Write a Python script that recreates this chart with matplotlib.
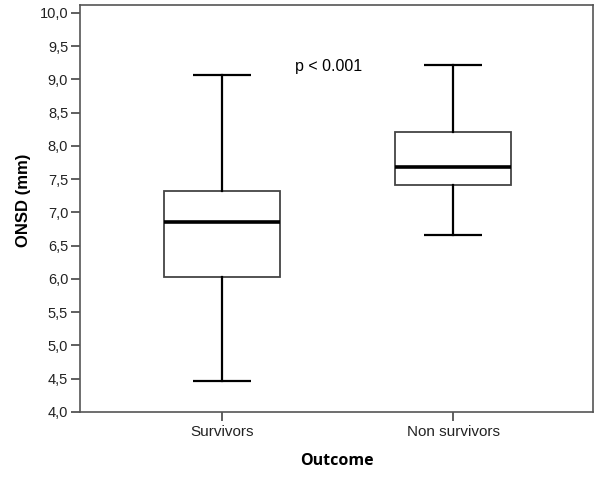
import matplotlib
matplotlib.use("Agg")
import matplotlib.pyplot as plt

plt.rcParams['font.family'] = ['Liberation Sans', 'DejaVu Sans']

# box plot summary
groups = ["Survivors", "Non survivors"]
whislo = [4.46, 6.66]
q1 = [6.03, 7.41]
med = [6.86, 7.68]
q3 = [7.33, 8.21]
whishi = [9.06, 9.22]
yticks = [4.0, 4.5, 5.0, 5.5, 6.0, 6.5, 7.0, 7.5, 8.0, 8.5, 9.0, 9.5, 10.0]

stats = []
for i in range(len(groups)):
    stats.append(dict(label=groups[i], whislo=whislo[i], q1=q1[i], med=med[i],
                      q3=q3[i], whishi=whishi[i], fliers=[]))

fig = plt.figure(figsize=(6, 4.8), dpi=100)
ax = fig.add_axes([0.1333, 0.1417, 0.855, 0.8479])

ax.bxp(stats, positions=[1, 2], widths=0.5, showfliers=False, patch_artist=True,
       boxprops=dict(facecolor='white', edgecolor='#444444', linewidth=1.3),
       medianprops=dict(color='black', linewidth=2.6),
       whiskerprops=dict(color='black', linewidth=1.6),
       capprops=dict(color='black', linewidth=1.6, solid_capstyle='butt'),
       capwidths=0.25)

ax.set_xlim(0.385, 2.606)
ax.set_ylim(4.0, 10.12)
ax.set_yticks(yticks)
ax.set_yticklabels([("%.1f" % v).replace(".", ",") for v in yticks], fontsize=10.5, color='#222222')
ax.set_xticks([1, 2])
ax.set_xticklabels(groups, fontsize=11, color='#222222')
ax.tick_params(axis='both', direction='out', length=6.5, width=1.2, color='#444444')
ax.tick_params(axis='x', pad=3)
ax.tick_params(axis='y', pad=2)
for s in ax.spines.values():
    s.set_color('#555555')
    s.set_linewidth(1.2)

ax.text(1.46, 9.19, "p < 0.001", ha='center', va='center', fontsize=11.5)
ax.set_ylabel("ONSD (mm)", fontsize=12, fontweight='bold', labelpad=4)
ax.yaxis.set_label_coords(-0.095, 0.52)
ax.set_xlabel("Outcome", fontsize=11.5, fontweight='bold', family=['Open Sans', 'DejaVu Sans'], labelpad=10)

fig.savefig("out.png", dpi=100)
